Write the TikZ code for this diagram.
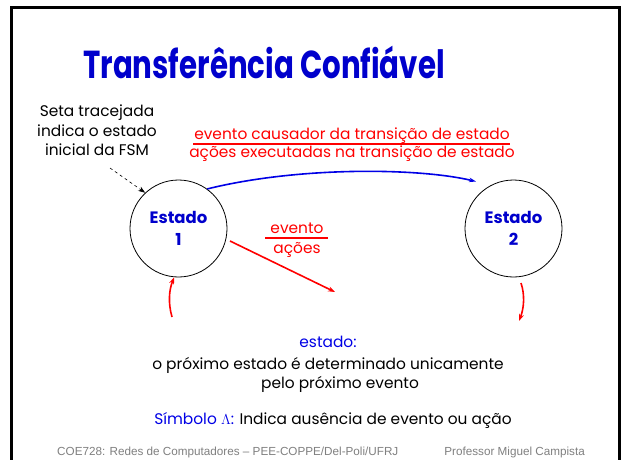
\documentclass[tikz,border=0pt]{standalone}
\usepackage{fontspec}
\setmainfont{Poppins}
\newfontfamily\footfont{Liberation Sans}
\usetikzlibrary{arrows.meta}
\definecolor{tblue}{RGB}{0,0,204}
\definecolor{lblue}{RGB}{0,0,230}
\definecolor{tred}{RGB}{255,0,0}
\definecolor{fgrey}{RGB}{128,128,128}
\begin{document}
\begin{tikzpicture}[x=1pt,y=-1pt,
  statebox/.style={circle,draw=black,line width=0.8pt,minimum size=97pt,inner sep=0pt,
    align=center,text=tblue,font=\fontsize{16.5}{22}\selectfont\bfseries},
  body/.style={font=\fontsize{15.4}{19.5}\selectfont,align=center,inner sep=0pt},
  redtxt/.style={body,text=tred},
  tip/.style={-{Stealth[length=7pt,width=5pt]}},
  redarrow/.style={tip,draw=tred,line width=1.6pt},
  foot/.style={font=\footfont\fontsize{11.7}{14}\selectfont,text=fgrey,inner sep=0pt},
]
\useasboundingbox (0,0) rectangle (626,460);
\fill[white] (0,0) rectangle (626,460);
\draw[line width=3pt] (11.5,462) -- (11.5,7.5) -- (619.5,7.5) -- (619.5,462);

\node[text=tblue,font=\fontsize{39}{40}\selectfont\bfseries,inner sep=0pt] (title) at (264,62) {\scalebox{0.75}[1]{Transferência Confiável}};

\node[body] (note) at (97,130.5) {Seta tracejada\\indica o estado\\inicial da FSM};

\node[statebox] (s1) at (178.5,228.5) {Estado\\1};
\node[statebox] (s2) at (513.5,228.5) {Estado\\2};

% initial dashed arrow
\coordinate (d0) at (110,168);
\draw[dashed,line width=0.6pt,-{Stealth[length=7pt,width=5pt]}] (d0) -- (s1.133);

% blue transition
\coordinate (b1) at (476,181.5);
\draw[draw=lblue,line width=1.6pt,-{Stealth[length=7pt,width=4.5pt]}] (s1.54) .. controls (300,166) and (420,168) .. (b1);

% red label of transition
\node[redtxt,anchor=base] (ev) at (352,139.5) {evento causador da transição de estado};
\node[redtxt,anchor=base] (ac) at (352,157.5) {ações executadas na transição de estado};
\draw[tred,line width=1.4pt] (193,144) -- (510,144);

% evento / acoes
\node[redtxt,anchor=base] (ev2) at (297,233) {evento};
\node[redtxt,anchor=base] (ac2) at (297,253.5) {ações};
\draw[tred,line width=1.4pt] (265,238) -- (328,238);

% red arrow to nowhere
\coordinate (r1) at (335,292);
\draw[redarrow] (230,241) -- (r1);

% small red arrows
\coordinate (i1) at (172,317);
\draw[redarrow] (i1) .. controls (168,303) and (169,290) .. (s1.-95);
\coordinate (o2) at (519,321);
\coordinate (o1) at (521,283);
\draw[redarrow] (o1) .. controls (525,295) and (524,308) .. (o2);

% bottom texts
\node[body,text=lblue,anchor=base] (st) at (328,347) {estado:};
\node[body,anchor=base] (l1) at (328,369) {o próximo estado é determinado unicamente};
\node[body,anchor=base] (l2) at (340,388) {pelo próximo evento};
\node[body,anchor=base] (sym) at (333,424) {\textcolor{lblue}{Símbolo $\Lambda$:} Indica ausência de evento ou ação};

\node[foot,anchor=base west] (f1) at (57,455) {COE728: Redes de Computadores – PEE-COPPE/Del-Poli/UFRJ};
\node[foot,anchor=base east] (f2) at (585,455) {Professor Miguel Campista};
\end{tikzpicture}
\end{document}
